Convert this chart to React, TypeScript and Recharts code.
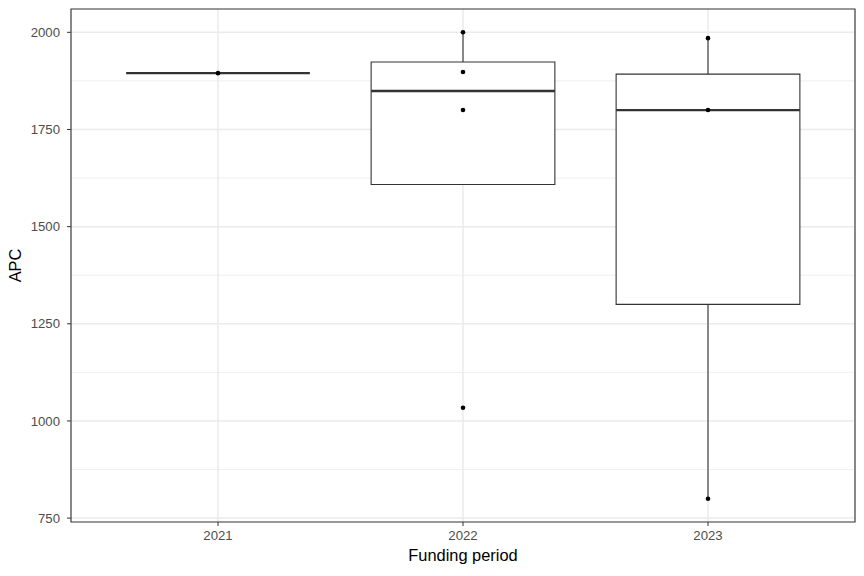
import React from 'react';
import {
  ComposedChart, Scatter, XAxis, YAxis, CartesianGrid, ReferenceArea, ReferenceLine, Label,
} from 'recharts';

// funding periods and APC values per period
const periods = ['2021', '2022', '2023'];
const apc2021 = [1895];
const apc2022 = [1034, 1800, 1898, 2000];
const apc2023 = [800, 1800, 1985];
const groups = [apc2021, apc2022, apc2023];

const yTicks = [750, 1000, 1250, 1500, 1750, 2000];
const yMinor = [875, 1125, 1375, 1625, 1875];

const FONT = '"Liberation Sans", Arial, Helvetica, sans-serif';
const BOX_HALF = 0.375;

// R type-7 quantile, same as ggplot's stat_boxplot
const quantile = (vals: number[], p: number) => {
  const s = [...vals].sort((a, b) => a - b);
  const h = (s.length - 1) * p;
  const lo = Math.floor(h);
  const hi = Math.ceil(h);
  return s[lo] + (h - lo) * (s[hi] - s[lo]);
};

const boxStats = groups.map((vals, i) => {
  const q1 = quantile(vals, 0.25);
  const med = quantile(vals, 0.5);
  const q3 = quantile(vals, 0.75);
  const iqr = q3 - q1;
  const inside = vals.filter((v) => v >= q1 - 1.5 * iqr && v <= q3 + 1.5 * iqr);
  // whiskers only ever show outside the box (the box covers the rest)
  return {
    x: i + 1,
    q1, med, q3,
    lo: Math.min(Math.min(...inside), q1),
    hi: Math.max(Math.max(...inside), q3),
  };
});

const points = groups.flatMap((vals, i) => vals.map((v) => ({ x: i + 1, y: v })));

const App = () => {
  return (
    <div style={{ position: 'absolute', left: 0, top: 0, background: '#fff' }}>
      <ComposedChart
        width={864}
        height={576}
        margin={{ top: 9, right: 9, left: 0, bottom: 0 }}
        style={{ fontFamily: FONT }}
      >
        <CartesianGrid stroke="#EBEBEB" strokeWidth={0.8} vertical={false} horizontalValues={yMinor} />
        <CartesianGrid stroke="#EBEBEB" strokeWidth={1.5} horizontalValues={yTicks} />
        <XAxis
          dataKey="x"
          type="number"
          domain={[0.4, 3.6]}
          ticks={[1, 2, 3]}
          allowDataOverflow
          tickFormatter={(v: number) => periods[v - 1]}
          height={54}
          axisLine={false}
          tickSize={4}
          tickMargin={5}
          tickLine={{ stroke: '#333333' }}
          tick={{ fill: '#4D4D4D', fontSize: 13.2, fontFamily: FONT }}
        >
          <Label
            content={(p: any) => {
              const vb = p.viewBox;
              return (
                <text
                  x={vb.x + vb.width / 2}
                  y={561}
                  textAnchor="middle"
                  fontSize={16.4}
                  fill="#000"
                  fontFamily={FONT}
                >
                  Funding period
                </text>
              );
            }}
          />
        </XAxis>
        <YAxis
          type="number"
          domain={[740, 2060]}
          ticks={yTicks}
          allowDataOverflow
          width={71}
          axisLine={false}
          tickSize={4}
          tickMargin={7}
          tickLine={{ stroke: '#333333' }}
          tick={{ fill: '#4D4D4D', fontSize: 13.2, fontFamily: FONT }}
        >
          <Label
            content={(p: any) => {
              const vb = p.viewBox;
              const cy = vb.y + vb.height / 2;
              return (
                <text
                  x={21}
                  y={cy}
                  transform={`rotate(-90 21 ${cy})`}
                  textAnchor="middle"
                  fontSize={16.4}
                  fill="#000"
                  fontFamily={FONT}
                >
                  APC
                </text>
              );
            }}
          />
        </YAxis>

        {boxStats.map((b) => (
          <ReferenceArea
            key={`box${b.x}`}
            x1={b.x - BOX_HALF}
            x2={b.x + BOX_HALF}
            y1={b.q1}
            y2={b.q3}
            fill="#fff"
            fillOpacity={1}
            stroke="#333333"
            strokeWidth={1.1}
            ifOverflow="visible"
          />
        ))}
        {boxStats.map((b) => (
          <ReferenceLine
            key={`wu${b.x}`}
            segment={[{ x: b.x, y: b.q3 }, { x: b.x, y: b.hi }]}
            stroke="#333333"
            strokeWidth={1.1}
          />
        ))}
        {boxStats.map((b) => (
          <ReferenceLine
            key={`wl${b.x}`}
            segment={[{ x: b.x, y: b.q1 }, { x: b.x, y: b.lo }]}
            stroke="#333333"
            strokeWidth={1.1}
          />
        ))}
        {boxStats.map((b) => (
          <ReferenceLine
            key={`med${b.x}`}
            segment={[{ x: b.x - BOX_HALF, y: b.med }, { x: b.x + BOX_HALF, y: b.med }]}
            stroke="#333333"
            strokeWidth={2.3}
          />
        ))}

        <Scatter
          data={points}
          dataKey="y"
          isAnimationActive={false}
          shape={(p: any) => <circle cx={p.cx} cy={p.cy} r={2.3} fill="#000" />}
        />

        <ReferenceArea
          x1={0.4}
          x2={3.6}
          y1={740}
          y2={2060}
          fill="none"
          stroke="#333333"
          strokeWidth={1.1}
          ifOverflow="visible"
        />
      </ComposedChart>
    </div>
  );
};

export default App;
